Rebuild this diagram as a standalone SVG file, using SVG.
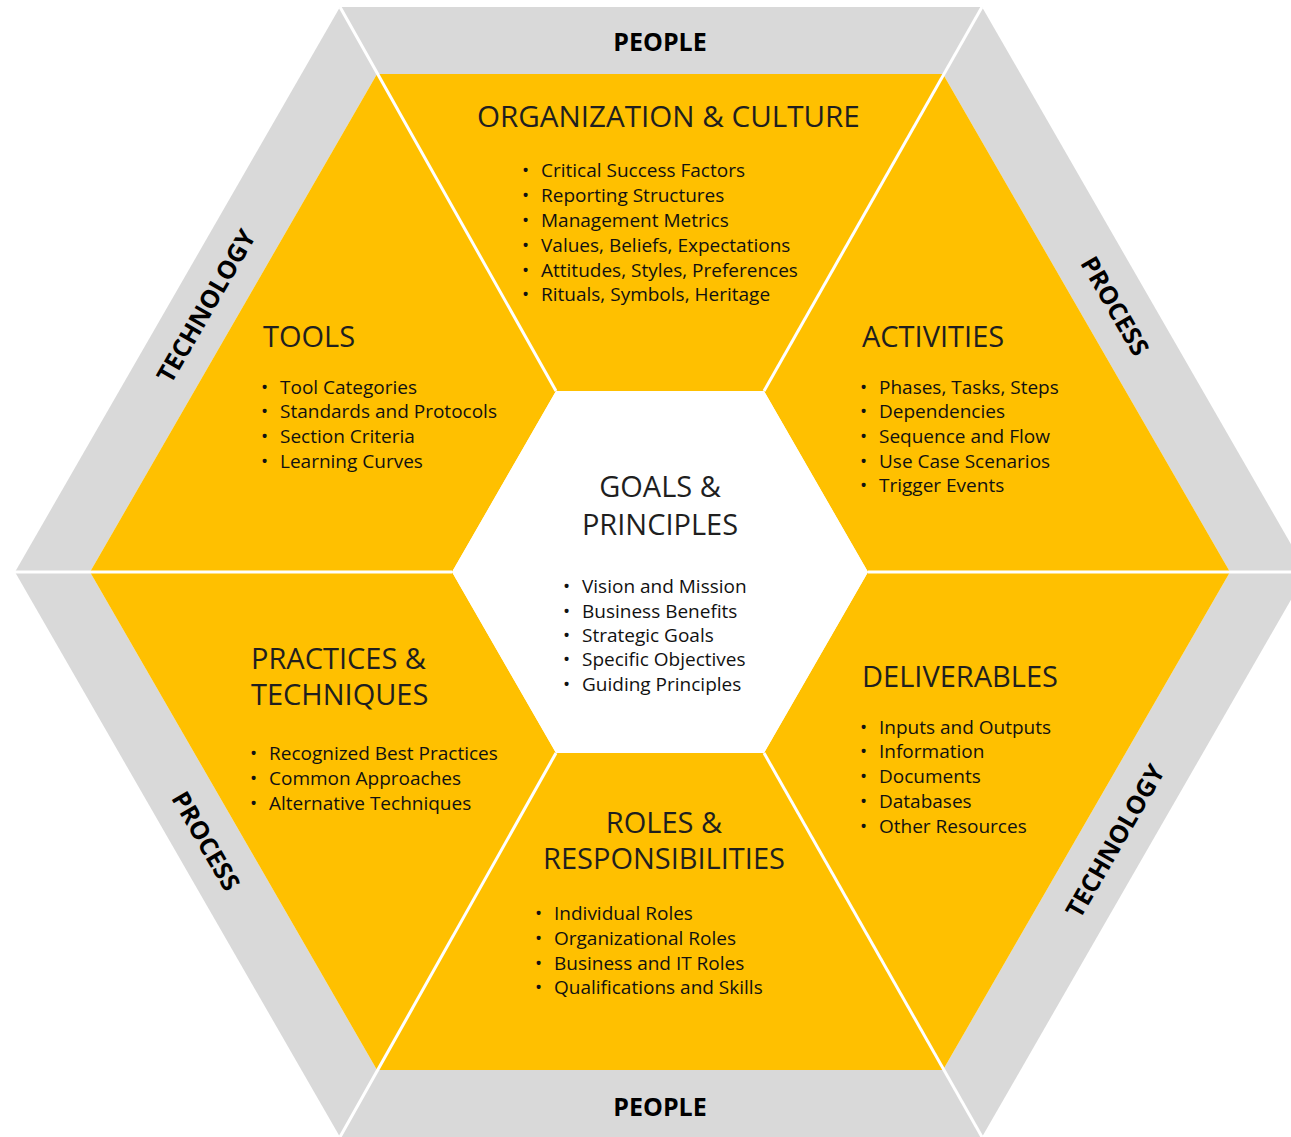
<svg xmlns="http://www.w3.org/2000/svg" width="1291" height="1137" viewBox="0 0 1291 1137">
<style>
.band{fill:#d9d9d9}
.seg{fill:#ffc000}
.core{fill:#ffffff}
.div{stroke:#ffffff;stroke-width:3;fill:none}
.lbl{font-family:"Open Sans","Noto Sans","DejaVu Sans",sans-serif;font-weight:bold;font-size:25px;fill:#000;text-anchor:middle}
.ttl{font-family:"Open Sans","Noto Sans","DejaVu Sans",sans-serif;font-size:29px;fill:#1f1f1f}
.ttc{text-anchor:middle}
.itm{font-family:"Open Sans","Noto Sans","DejaVu Sans",sans-serif;font-size:19px;fill:#111}
</style>
<rect width="1291" height="1137" fill="#ffffff"/>
<g id="band-people-top">
<polygon class="band" points="340,7 982,7 943,74 377,74"/>
<text class="lbl" x="660" y="51">PEOPLE</text>
</g>
<g id="band-process-right">
<polygon class="band" points="982,7 1307,572 1230,572 943,74"/>
<text class="lbl" transform="translate(1115,306) rotate(60)" x="0" y="9">PROCESS</text>
</g>
<g id="band-technology-right">
<polygon class="band" points="1307,572 982,1137 943,1070 1230,572"/>
<text class="lbl" transform="translate(1115,841) rotate(-60)" x="0" y="9">TECHNOLOGY</text>
</g>
<g id="band-people-bottom">
<polygon class="band" points="982,1137 340,1137 377,1070 943,1070"/>
<text class="lbl" x="660" y="1116">PEOPLE</text>
</g>
<g id="band-process-left">
<polygon class="band" points="340,1137 15,572 90,572 377,1070"/>
<text class="lbl" transform="translate(206,841) rotate(60)" x="0" y="9">PROCESS</text>
</g>
<g id="band-technology-left">
<polygon class="band" points="15,572 340,7 377,74 90,572"/>
<text class="lbl" transform="translate(206,306) rotate(-60)" x="0" y="9">TECHNOLOGY</text>
</g>

<g id="organization-culture">
<polygon class="seg" points="377,74 943,74 764,391 556,391"/>
<text class="ttl" x="477" y="127" style="font-size:29.6px">ORGANIZATION &amp; CULTURE</text>
<text class="itm"><tspan x="522" y="177">•</tspan><tspan x="541" y="177">Critical Success Factors</tspan></text>
<text class="itm"><tspan x="522" y="202">•</tspan><tspan x="541" y="202">Reporting Structures</tspan></text>
<text class="itm"><tspan x="522" y="227">•</tspan><tspan x="541" y="227">Management Metrics</tspan></text>
<text class="itm"><tspan x="522" y="252">•</tspan><tspan x="541" y="252">Values, Beliefs, Expectations</tspan></text>
<text class="itm"><tspan x="522" y="277">•</tspan><tspan x="541" y="277">Attitudes, Styles, Preferences</tspan></text>
<text class="itm"><tspan x="522" y="301">•</tspan><tspan x="541" y="301">Rituals, Symbols, Heritage</tspan></text>
</g>

<g id="activities">
<polygon class="seg" points="943,74 1230,572 868,572 764,391"/>
<text class="ttl" x="862" y="347">ACTIVITIES</text>
<text class="itm"><tspan x="860" y="394">•</tspan><tspan x="879" y="394">Phases, Tasks, Steps</tspan></text>
<text class="itm"><tspan x="860" y="418">•</tspan><tspan x="879" y="418">Dependencies</tspan></text>
<text class="itm"><tspan x="860" y="443">•</tspan><tspan x="879" y="443">Sequence and Flow</tspan></text>
<text class="itm"><tspan x="860" y="468">•</tspan><tspan x="879" y="468">Use Case Scenarios</tspan></text>
<text class="itm"><tspan x="860" y="492">•</tspan><tspan x="879" y="492">Trigger Events</tspan></text>
</g>

<g id="deliverables">
<polygon class="seg" points="1230,572 943,1070 764,753 868,572"/>
<text class="ttl" x="862" y="687">DELIVERABLES</text>
<text class="itm"><tspan x="860" y="734">•</tspan><tspan x="879" y="734">Inputs and Outputs</tspan></text>
<text class="itm"><tspan x="860" y="758">•</tspan><tspan x="879" y="758">Information</tspan></text>
<text class="itm"><tspan x="860" y="783">•</tspan><tspan x="879" y="783">Documents</tspan></text>
<text class="itm"><tspan x="860" y="808">•</tspan><tspan x="879" y="808">Databases</tspan></text>
<text class="itm"><tspan x="860" y="833">•</tspan><tspan x="879" y="833">Other Resources</tspan></text>
</g>

<g id="roles-responsibilities">
<polygon class="seg" points="943,1070 377,1070 556,753 764,753"/>
<text class="ttl ttc" x="664" y="833">ROLES &amp;</text>
<text class="ttl ttc" x="664" y="869">RESPONSIBILITIES</text>
<text class="itm"><tspan x="535" y="920">•</tspan><tspan x="554" y="920">Individual Roles</tspan></text>
<text class="itm"><tspan x="535" y="945">•</tspan><tspan x="554" y="945">Organizational Roles</tspan></text>
<text class="itm"><tspan x="535" y="970">•</tspan><tspan x="554" y="970">Business and IT Roles</tspan></text>
<text class="itm"><tspan x="535" y="994">•</tspan><tspan x="554" y="994">Qualifications and Skills</tspan></text>
</g>

<g id="practices-techniques">
<polygon class="seg" points="377,1070 90,572 452,572 556,753"/>
<text class="ttl" x="251" y="669">PRACTICES &amp;</text>
<text class="ttl" x="251" y="705">TECHNIQUES</text>
<text class="itm"><tspan x="250" y="760">•</tspan><tspan x="269" y="760">Recognized Best Practices</tspan></text>
<text class="itm"><tspan x="250" y="785">•</tspan><tspan x="269" y="785">Common Approaches</tspan></text>
<text class="itm"><tspan x="250" y="810">•</tspan><tspan x="269" y="810">Alternative Techniques</tspan></text>
</g>

<g id="tools">
<polygon class="seg" points="90,572 377,74 556,391 452,572"/>
<text class="ttl" x="263" y="347">TOOLS</text>
<text class="itm"><tspan x="261" y="394">•</tspan><tspan x="280" y="394">Tool Categories</tspan></text>
<text class="itm"><tspan x="261" y="418">•</tspan><tspan x="280" y="418">Standards and Protocols</tspan></text>
<text class="itm"><tspan x="261" y="443">•</tspan><tspan x="280" y="443">Section Criteria</tspan></text>
<text class="itm"><tspan x="261" y="468">•</tspan><tspan x="280" y="468">Learning Curves</tspan></text>
</g>

<g id="goals-principles">
<polygon class="core" points="556,391 764,391 868,572 764,753 556,753 452,572"/>
<text class="ttl ttc" x="660" y="497">GOALS &amp;</text>
<text class="ttl ttc" x="660" y="535">PRINCIPLES</text>
<text class="itm"><tspan x="563" y="593">•</tspan><tspan x="582" y="593">Vision and Mission</tspan></text>
<text class="itm"><tspan x="563" y="618">•</tspan><tspan x="582" y="618">Business Benefits</tspan></text>
<text class="itm"><tspan x="563" y="642">•</tspan><tspan x="582" y="642">Strategic Goals</tspan></text>
<text class="itm"><tspan x="563" y="666">•</tspan><tspan x="582" y="666">Specific Objectives</tspan></text>
<text class="itm"><tspan x="563" y="691">•</tspan><tspan x="582" y="691">Guiding Principles</tspan></text>
</g>

<g id="connectors">
<line class="div" x1="340" y1="7" x2="556" y2="391"/>
<line class="div" x1="982" y1="7" x2="764" y2="391"/>
<line class="div" x1="15" y1="572" x2="452" y2="572"/>
<line class="div" x1="1307" y1="572" x2="868" y2="572"/>
<line class="div" x1="340" y1="1137" x2="556" y2="753"/>
<line class="div" x1="982" y1="1137" x2="764" y2="753"/>
</g>
</svg>
